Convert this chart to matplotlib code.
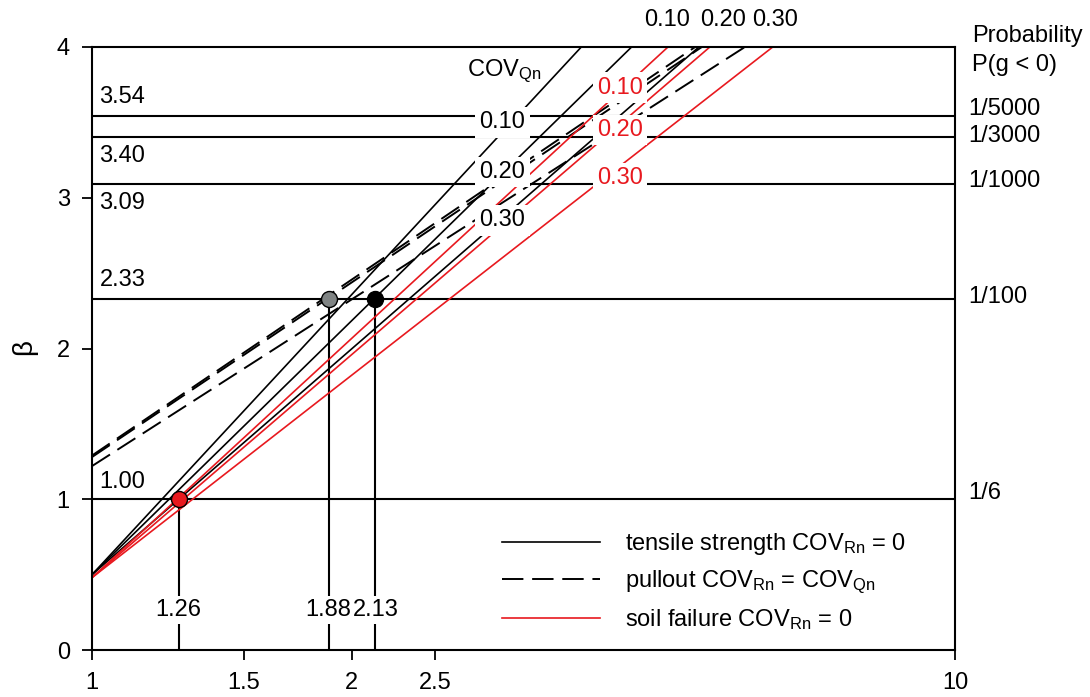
import numpy as np
import matplotlib
matplotlib.use('Agg')
from matplotlib import pyplot as plt

plt.rcParams['font.family'] = ['Liberation Sans', 'DejaVu Sans']
plt.rcParams['mathtext.default'] = 'regular'

# COV_Qn values for each family of lines
cov = ['0.10', '0.20', '0.30']

# beta at x = 1 and x where beta reaches 4
tens_b0 = [0.50, 0.50, 0.50]
tens_x4 = [3.69, 4.22, 5.05]
pull_b0 = [1.29, 1.28, 1.22]
pull_x4 = [5.00, 5.09, 5.71]
soil_b0 = [0.48, 0.48, 0.48]
soil_x4 = [4.65, 5.20, 6.15]

# target reliability levels
beta_t = [3.54, 3.40, 3.09, 2.33, 1.00]
prob_t = ['1/5000', '1/3000', '1/1000', '1/100', '1/6']

# design points
pt_x = [1.26, 1.88, 2.13]
pt_b = [1.00, 2.33, 2.33]
pt_c = ['#e8191f', '#808484', 'black']

red = '#e8191f'
fs = 17

fig = plt.figure(figsize=(10.9, 6.97), dpi=100)
ax = fig.add_axes([0.0844, 0.0674, 0.7917, 0.8652])
ax.set_xscale('log')
ax.set_xlim(1, 10)
ax.set_ylim(0, 4)

for b0, x4 in zip(tens_b0, tens_x4):
    ax.plot([1, x4], [b0, 4], color='black', lw=1.2, zorder=2)
for b0, x4 in zip(pull_b0, pull_x4):
    ax.plot([1, x4], [b0, 4], color='black', lw=1.4, ls=(0, (11, 4.5)), zorder=2)
for b0, x4 in zip(soil_b0, soil_x4):
    ax.plot([1, x4], [b0, 4], color=red, lw=1.2, zorder=2)

for b in beta_t:
    ax.axhline(b, color='black', lw=1.5, zorder=1)

for x, b, c in zip(pt_x, pt_b, pt_c):
    ax.plot([x, x], [0, b], color='black', lw=1.5, zorder=1)
    ax.plot(x, b, 'o', ms=11.5, mfc=c, mec='black', mew=1.0, zorder=6)
    ax.text(x, 0.265, '{0:.2f}'.format(x), ha='center', va='center', fontsize=fs,
            bbox=dict(fc='white', ec='none', pad=2), zorder=5)

# labels for the target lines (left) and probabilities (right)
left_y = [3.67, 3.28, 2.965, 2.455, 1.115]
for b, y in zip(beta_t, left_y):
    ax.text(1.02, y, '{0:.2f}'.format(b), ha='left', va='center', fontsize=fs, zorder=5)
right_y = [3.59, 3.41, 3.11, 2.34, 1.04]
for p, y in zip(prob_t, right_y):
    ax.text(1.015, y, p, transform=ax.get_yaxis_transform(), ha='left', va='center',
            fontsize=fs, clip_on=False)
ax.text(1.02, 4.07, 'Probability', transform=ax.get_yaxis_transform(), ha='left',
        va='center', fontsize=fs, clip_on=False)
ax.text(1.02, 3.88, 'P(g < 0)', transform=ax.get_yaxis_transform(), ha='left',
        va='center', fontsize=fs, clip_on=False)

# COV_Qn labels on the lines
ax.text(2.72, 3.84, r'COV$_{Qn}$', ha='left', va='center', fontsize=fs, zorder=5)
for c, y in zip(cov, [3.50, 3.17, 2.85]):
    ax.text(2.99, y, c, ha='center', va='center', fontsize=fs,
            bbox=dict(fc='white', ec='none', pad=3), zorder=5)
for c, y in zip(cov, [3.73, 3.45, 3.13]):
    ax.text(4.09, y, c, ha='center', va='center', fontsize=fs, color=red,
            bbox=dict(fc='white', ec='none', pad=3), zorder=5)
for c, x in zip(cov, [4.64, 5.38, 6.18]):
    ax.text(x, 4.18, c, ha='center', va='center', fontsize=fs, clip_on=False)

# legend
ax.plot([], [], color='black', lw=1.2, label=r'tensile strength COV$_{Rn}$ = 0')
ax.plot([], [], color='black', lw=1.4, ls=(0, (11, 4.5)),
        label=r'pullout COV$_{Rn}$ = COV$_{Qn}$')
ax.plot([], [], color=red, lw=1.2, label=r'soil failure COV$_{Rn}$ = 0')
ax.legend(loc='upper left', bbox_to_anchor=(0.464, 0.213), borderaxespad=0,
          frameon=False, fontsize=fs, handlelength=4.15, handletextpad=1.06,
          labelspacing=0.48)

ax.set_xticks([1, 1.5, 2, 2.5, 10])
ax.set_xticklabels(['1', '1.5', '2', '2.5', '10'])
ax.xaxis.set_minor_locator(matplotlib.ticker.NullLocator())
ax.set_yticks([0, 1, 2, 3, 4])
ax.tick_params(direction='out', length=7, width=1.3, labelsize=fs, pad=9)
for s in ax.spines.values():
    s.set_linewidth(1.5)
ax.set_ylabel(r'$\beta$', fontsize=fs + 3, labelpad=11)

plt.savefig('out.png', dpi=100)
